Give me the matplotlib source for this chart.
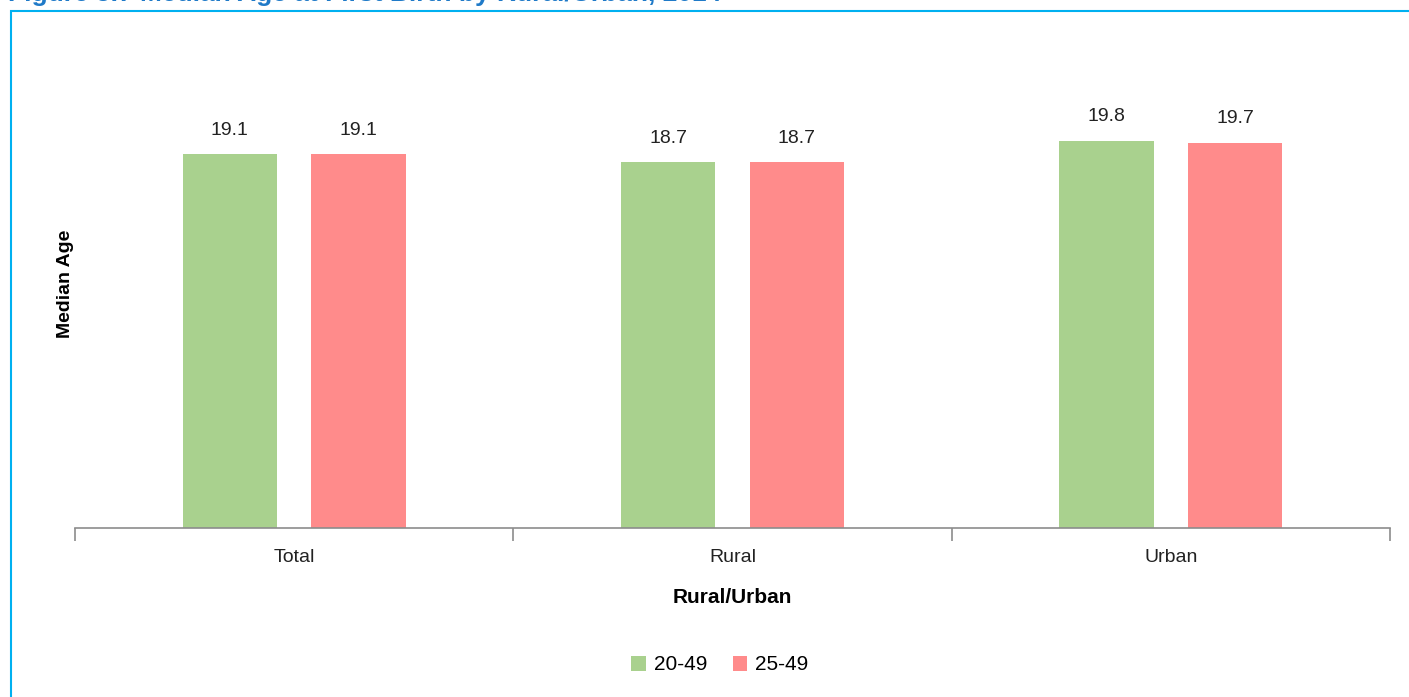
import numpy as np
import matplotlib
matplotlib.use("Agg")
from matplotlib import pyplot as plt
from matplotlib.patches import Rectangle

# 数据
categories = ["Total", "Rural", "Urban"]
series_names = ["20-49", "25-49"]
age_20_49 = [19.1, 18.7, 19.8]
age_25_49 = [19.1, 18.7, 19.7]

plt.rcParams['font.family'] = ['Liberation Sans Narrow', 'Liberation Sans', 'DejaVu Sans']

fig = plt.figure(figsize=(14.09, 6.97), dpi=100)

# 蓝色边框和被裁掉一半的标题
fig.patches.append(Rectangle((11 / 1409, -0.1), 1.2, (697 - 11) / 697 + 0.1,
                             transform=fig.transFigure, fill=False,
                             edgecolor='#00b0f0', linewidth=1.5))
fig.text(8 / 1409, 1.008, "Figure 5.7 Median Age at First Birth by Rural/Urban, 2014",
         color='#1f7ac8', fontsize=19, fontweight='bold', family=['Liberation Sans'],
         ha='left', va='center')

ax = fig.add_axes([75 / 1409, 0.2425, (1390 - 75) / 1409, 0.7016])

x = np.arange(len(categories))
width = 0.215
offset = 0.1467
b1 = ax.bar(x - offset, age_20_49, width, color='#a9d18e', label=series_names[0])
b2 = ax.bar(x + offset, age_25_49, width, color='#ff8b8b', label=series_names[1])

for bars in (b1, b2):
    for rect in bars:
        h = rect.get_height()
        ax.annotate('%.1f' % h, (rect.get_x() + rect.get_width() / 2, h),
                    xytext=(0, 11), textcoords='offset points',
                    ha='center', va='bottom', fontsize=14, color='#222222')

ax.set_xlim(-0.5, 2.5)
ax.set_ylim(0, 25)

for s in ['top', 'right', 'left']:
    ax.spines[s].set_visible(False)
ax.spines['bottom'].set_color('#8c8c8c')
ax.spines['bottom'].set_linewidth(1.2)
ax.set_yticks([])

ax.set_xticks(x)
ax.set_xticklabels(categories, fontsize=14, color='#222222')
ax.tick_params(axis='x', which='major', length=0, pad=15)
ax.set_xticks([-0.5, 0.5, 1.5, 2.5], minor=True)
ax.tick_params(axis='x', which='minor', length=9, width=1.2, color='#8c8c8c')

ax.set_xlabel("Rural/Urban", fontsize=15, fontweight='bold', labelpad=16)
ax.set_ylabel("Median Age", fontsize=14, fontweight='bold', labelpad=1)

fig.legend(handles=[b1, b2], labels=series_names, loc='center',
           bbox_to_anchor=(720 / 1409, 1 - 665 / 697), ncol=2, frameon=False,
           fontsize=15, handlelength=0.7, handleheight=0.7, handletextpad=0.4,
           columnspacing=1.2)

plt.savefig('out.png', dpi=100)
